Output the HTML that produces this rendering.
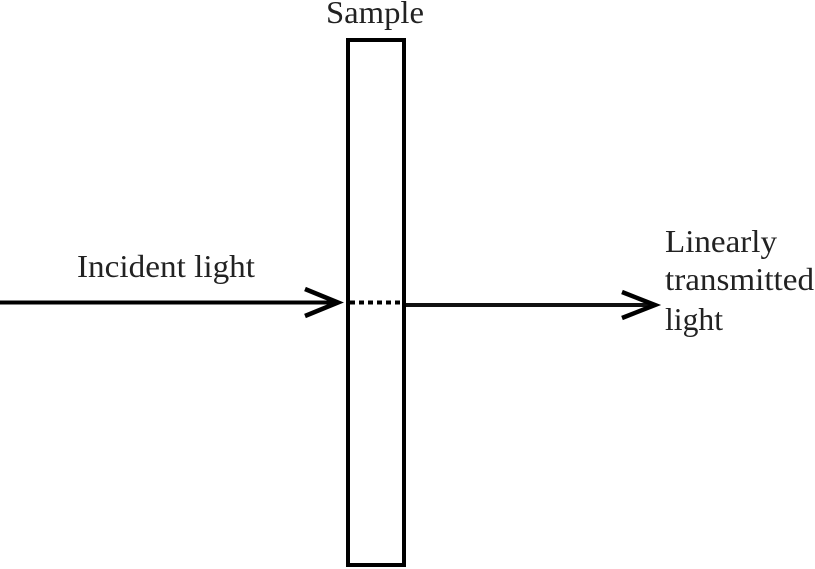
<!DOCTYPE html>
<html><head><style>
html,body{margin:0;padding:0;background:#fff;}
svg{display:block;}
text{font-family:"Liberation Serif",serif;font-size:32px;fill:#222;}
</style></head><body>
<svg width="815" height="569" viewBox="0 0 815 569">
<rect x="348" y="40" width="56" height="525" fill="none" stroke="#000" stroke-width="4"/>
<line x1="0" y1="302.5" x2="338" y2="302.5" stroke="#000" stroke-width="4"/>
<polyline points="305,289 338,302.5 305,316" fill="none" stroke="#000" stroke-width="4.5"/>
<line x1="350" y1="302.5" x2="402" y2="302.5" stroke="#000" stroke-width="4" stroke-dasharray="5,4"/>
<line x1="406" y1="305" x2="655" y2="305" stroke="#111" stroke-width="4"/>
<polyline points="622,292 655,305 622,318" fill="none" stroke="#000" stroke-width="4.5"/>
<text x="326" y="23" textLength="98" lengthAdjust="spacingAndGlyphs">Sample</text>
<text x="77" y="277" textLength="178" lengthAdjust="spacingAndGlyphs">Incident light</text>
<text x="665" y="252" textLength="112" lengthAdjust="spacingAndGlyphs">Linearly</text>
<text x="665" y="290" textLength="149" lengthAdjust="spacingAndGlyphs">transmitted</text>
<text x="665" y="330" textLength="58" lengthAdjust="spacingAndGlyphs">light</text>
</svg>
</body></html>
